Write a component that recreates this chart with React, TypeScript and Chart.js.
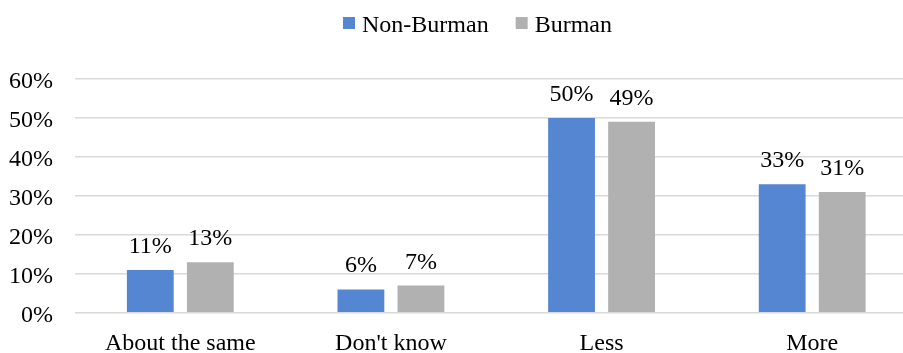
import React, { useEffect, useRef } from "react";
import { Chart, registerables } from "chart.js";

Chart.register(...registerables);

const categories = ["About the same", "Don't know", "Less", "More"];
const nonBurman = [11, 6, 50, 33];
const burman = [13, 7, 49, 31];
const seriesNames = ["Non-Burman", "Burman"];
const seriesColors = ["#5586D2", "#B1B1B1"];

const FONT = "'Liberation Serif', 'Times New Roman', serif";
const FONT_SIZE = 24;

// Value labels above each bar.
const valueLabels = {
  id: "valueLabels",
  afterDatasetsDraw(chart: any) {
    const ctx = chart.ctx;
    ctx.save();
    ctx.font = `${FONT_SIZE}px ${FONT}`;
    ctx.fillStyle = "#000";
    ctx.textAlign = "center";
    ctx.textBaseline = "alphabetic";
    chart.data.datasets.forEach((ds: any, i: number) => {
      const meta = chart.getDatasetMeta(i);
      meta.data.forEach((bar: any, j: number) => {
        ctx.fillText(`${ds.data[j]}%`, bar.x, bar.y - 17);
      });
    });
    ctx.restore();
  },
};

// Legend row centred at the top of the canvas.
const topLegend = {
  id: "topLegend",
  afterDraw(chart: any) {
    const ctx = chart.ctx;
    ctx.save();
    ctx.font = `${FONT_SIZE}px ${FONT}`;
    const box = 12;
    const gapText = 7;
    const gapItem = 27;
    const items = chart.data.datasets.map((ds: any) => ({
      label: ds.label,
      color: ds.backgroundColor,
      w: ctx.measureText(ds.label).width,
    }));
    const total =
      items.reduce((s: number, it: any) => s + box + gapText + it.w, 0) +
      gapItem * (items.length - 1);
    let x = chart.width / 2 + 2 - total / 2;
    const boxTop = 17;
    const baseline = 31.5;
    items.forEach((it: any) => {
      ctx.fillStyle = it.color;
      ctx.fillRect(x, boxTop, box, box);
      x += box + gapText;
      ctx.fillStyle = "#000";
      ctx.textAlign = "left";
      ctx.textBaseline = "alphabetic";
      ctx.fillText(it.label, x, baseline);
      x += it.w + gapItem;
    });
    ctx.restore();
  },
};

export default function App() {
  const canvasRef = useRef<HTMLCanvasElement | null>(null);

  useEffect(() => {
    if (!canvasRef.current) return;
    const chart = new Chart(canvasRef.current, {
      type: "bar",
      data: {
        labels: categories,
        datasets: [
          {
            label: seriesNames[0],
            data: nonBurman,
            backgroundColor: seriesColors[0],
            categoryPercentage: 0.57,
            barPercentage: 0.78,
          },
          {
            label: seriesNames[1],
            data: burman,
            backgroundColor: seriesColors[1],
            categoryPercentage: 0.57,
            barPercentage: 0.78,
          },
        ],
      },
      options: {
        responsive: false,
        animation: false,
        layout: { padding: { left: -13, right: 33.5, top: 79, bottom: -21 } },
        plugins: {
          legend: { display: false },
          tooltip: { enabled: false },
        },
        scales: {
          x: {
            grid: { display: false, drawTicks: false },
            border: { display: false },
            ticks: {
              color: "#000",
              padding: 21,
              font: { family: FONT, size: FONT_SIZE, lineHeight: 0.8 },
            },
          },
          y: {
            min: 0,
            max: 60,
            grid: { color: "#D9D9D9", lineWidth: 1.5, drawTicks: false },
            border: { display: false },
            ticks: {
              stepSize: 10,
              color: "#000",
              padding: 22,
              labelOffset: 3,
              font: { family: FONT, size: FONT_SIZE },
              callback: (v: any) => `${v}%`,
            },
          },
        },
      },
      plugins: [valueLabels, topLegend],
    });
    return () => chart.destroy();
  }, []);

  return (
    <div
      style={{
        position: "fixed",
        left: 0,
        top: 0,
        width: 903,
        height: 353,
        overflow: "hidden",
        background: "#fff",
      }}
    >
      <canvas
        ref={canvasRef}
        width={951}
        height={353}
        style={{ width: 951, height: 353, display: "block" }}
      />
    </div>
  );
}
